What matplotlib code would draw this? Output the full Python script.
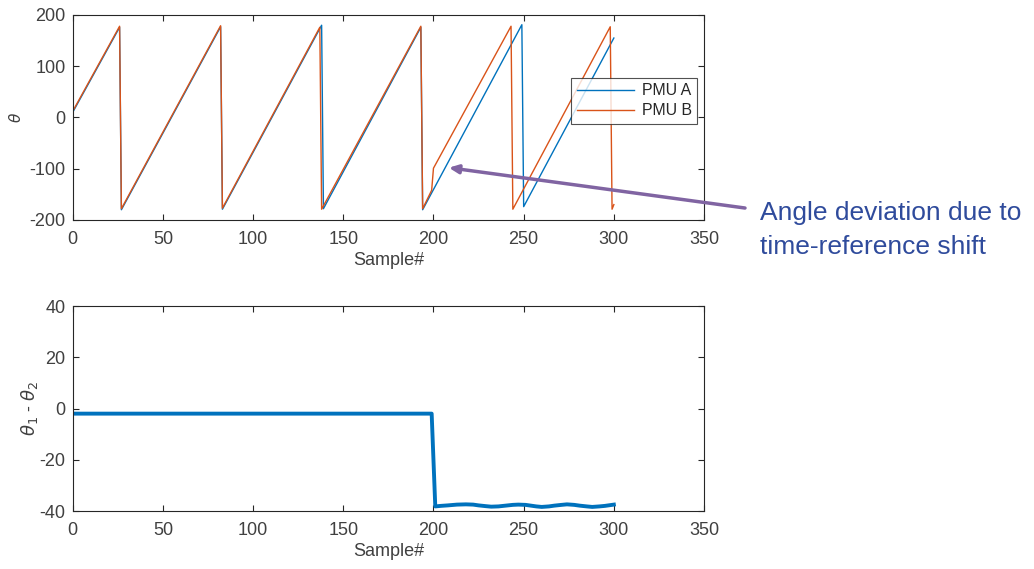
import matplotlib.pyplot as plt

plt.rcParams['font.family'] = ['Liberation Sans', 'DejaVu Sans']
plt.rcParams['axes.unicode_minus'] = False

# phase angle of each PMU, vertices of the wrapped sawtooth (sample#, degrees)
pmu_a_x = [0, 26, 27, 82, 83, 138, 139, 193, 194, 249, 250, 300]
pmu_a_y = [10, 176, -180, 177, -179, 180, -178, 176, -180, 181, -174, 155]

pmu_b_x = [0, 26, 27, 82, 83, 137, 138, 193, 194, 199, 200, 243, 244, 298, 299, 300]
pmu_b_y = [12, 178, -178, 179, -177, 176, -179, 178, -178, -142, -99, 178, -179, 177, -179, -170]

# angle difference theta1 - theta2
diff_x = [0, 50, 100, 150, 199, 201, 204, 208, 213, 218, 222, 225, 229, 232, 236,
          240, 244, 247, 251, 254, 257, 260, 264, 267, 271, 274, 278, 281, 285,
          288, 292, 295, 298, 300]
diff_y = [-2, -2, -2, -2, -2, -38.2, -38.0, -37.8, -37.5, -37.4, -37.5, -37.8,
          -38.1, -38.3, -38.2, -37.9, -37.6, -37.5, -37.6, -37.9, -38.2, -38.4,
          -38.2, -37.9, -37.6, -37.4, -37.6, -37.9, -38.2, -38.4, -38.2, -38.0,
          -37.7, -37.5]

blue = '#0072BD'
orange = '#D95319'
grey = '#262626'
label_grey = '#404040'

fig = plt.figure(figsize=(10.34, 5.69), dpi=100)
ax1 = fig.add_axes([0.0703, 0.6134, 0.6106, 0.3603])
ax2 = fig.add_axes([0.0703, 0.1019, 0.6106, 0.3603])


def style(ax):
    ax.set_xlim(0, 350)
    ax.set_xticks(range(0, 351, 50))
    ax.tick_params(direction='in', top=True, right=True, length=4, width=0.8,
                   colors=grey, labelcolor=label_grey, labelsize=13)
    ax.tick_params(axis='x', pad=8)
    ax.tick_params(axis='y', pad=5)
    for s in ax.spines.values():
        s.set_color(grey)
        s.set_linewidth(0.8)
    ax.set_xlabel('Sample#', fontsize=13, color=label_grey, labelpad=3)


ax1.plot(pmu_a_x, pmu_a_y, color=blue, lw=1.0, label='PMU A')
ax1.plot(pmu_b_x, pmu_b_y, color=orange, lw=1.0, label='PMU B')
style(ax1)
ax1.set_ylim(-200, 200)
ax1.set_yticks(range(-200, 201, 100))
ax1.set_ylabel(r'$\theta$', fontsize=11, color=label_grey, labelpad=4)
leg = ax1.legend(loc='upper left', bbox_to_anchor=(0.790, 0.693), fontsize=11.4,
                 handlelength=3.6, frameon=True, fancybox=False, borderpad=0.35,
                 labelspacing=0.3, handletextpad=0.5, borderaxespad=0)
leg.get_frame().set_edgecolor(grey)
leg.get_frame().set_linewidth(0.8)
for t in leg.get_texts():
    t.set_color(grey)

ax2.plot(diff_x, diff_y, color=blue, lw=2.8)
style(ax2)
ax2.set_ylim(-40, 40)
ax2.set_yticks(range(-40, 41, 20))
ax2.set_ylabel(r'$\theta_1$ - $\theta_2$', fontsize=13, color=label_grey, labelpad=0)

# callout pointing at the offset segment
ax1.annotate('', xy=(208.5, -98), xycoords='data',
             xytext=(0.7205, 0.6344), textcoords='figure fraction',
             arrowprops=dict(arrowstyle='-|>,head_length=0.55,head_width=0.25',
                             color='#8064A2', lw=2.5, shrinkA=0, shrinkB=0),
             annotation_clip=False)
note_color = '#2F4B9C'
fig.text(0.735, 1 - 220 / 569, 'Angle deviation due to', fontsize=19,
         color=note_color, va='baseline', ha='left')
fig.text(0.735, 1 - 254 / 569, 'time-reference shift', fontsize=19,
         color=note_color, va='baseline', ha='left')

fig.savefig('out.png', dpi=100)
